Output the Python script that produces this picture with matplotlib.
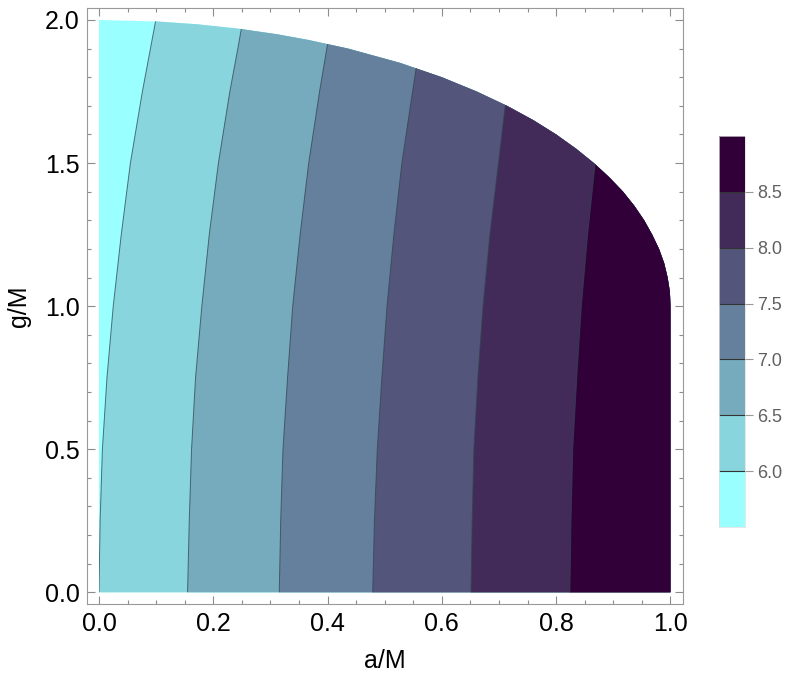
import matplotlib
matplotlib.use("Agg")
import matplotlib.pyplot as plt
from matplotlib.patches import Polygon
from matplotlib.colors import ListedColormap, BoundaryNorm
from matplotlib.cm import ScalarMappable
from matplotlib.ticker import MultipleLocator, FormatStrFormatter

plt.rcParams['font.family'] = ['Liberation Sans', 'DejaVu Sans']

levels = [6.0, 6.5, 7.0, 7.5, 8.0, 8.5]
bounds = [5.5, 6.0, 6.5, 7.0, 7.5, 8.0, 8.5, 9.0]
band_colors = ['#99ffff', '#88d5de', '#76aabd', '#65809c', '#54557a', '#422b59', '#310038']

# contour lines: g/M samples and the a/M where each level sits
g_60 = [0.0, 0.25, 0.5, 0.75, 1.0, 1.25, 1.5, 1.75, 1.995]
a_60 = [0.0, 0.002, 0.006, 0.014, 0.025, 0.039, 0.055, 0.076, 0.099]
g_65 = [0.0, 0.25, 0.5, 0.75, 1.0, 1.25, 1.5, 1.75, 1.9, 1.968]
a_65 = [0.155, 0.158, 0.162, 0.169, 0.180, 0.193, 0.209, 0.229, 0.243, 0.249]
g_70 = [0.0, 0.25, 0.5, 0.75, 1.0, 1.25, 1.5, 1.75, 1.916]
a_70 = [0.3155, 0.318, 0.322, 0.330, 0.339, 0.352, 0.367, 0.386, 0.400]
g_75 = [0.0, 0.25, 0.5, 0.75, 1.0, 1.25, 1.5, 1.7, 1.832]
a_75 = [0.479, 0.482, 0.487, 0.495, 0.504, 0.516, 0.530, 0.545, 0.555]
g_80 = [0.0, 0.25, 0.5, 0.75, 1.0, 1.25, 1.5, 1.703]
a_80 = [0.651, 0.653, 0.656, 0.663, 0.672, 0.684, 0.699, 0.711]
g_85 = [0.0, 0.25, 0.5, 0.75, 1.0, 1.25, 1.495]
a_85 = [0.824, 0.826, 0.829, 0.836, 0.844, 0.855, 0.868]

# outer edge of the filled region
edge_g = [0.0, 1.0, 1.05, 1.1, 1.15, 1.2, 1.25, 1.3, 1.35, 1.4, 1.45, 1.5, 1.55, 1.6,
          1.65, 1.7, 1.75, 1.8, 1.85, 1.9, 1.93, 1.95, 1.97, 1.985, 1.995, 2.0]
edge_a = [1.0, 1.0, 0.999, 0.995, 0.989, 0.980, 0.968, 0.954, 0.937, 0.917, 0.893, 0.866,
          0.835, 0.800, 0.760, 0.714, 0.661, 0.600, 0.527, 0.436, 0.367, 0.312, 0.243,
          0.172, 0.100, 0.0]

lines = [(a_60, g_60), (a_65, g_65), (a_70, g_70), (a_75, g_75), (a_80, g_80), (a_85, g_85)]

fig = plt.figure(figsize=(7.93, 6.87), dpi=100)
ax = fig.add_axes([0.1093, 0.1208, 0.7524, 0.8672])

domain = Polygon([(0.0, 0.0)] + list(zip(edge_a, edge_g)), closed=True,
                 facecolor=band_colors[0], edgecolor='none', transform=ax.transData)
ax.add_patch(domain)

# every level paints the part to its right, drawn in order, cut to the region
for k, (a, g) in enumerate(lines):
    pts = [(a[0], -0.1)] + list(zip(a, g)) + [(a[-1], 2.3), (1.3, 2.3), (1.3, -0.1)]
    band = Polygon(pts, closed=True, facecolor=band_colors[k + 1], edgecolor='none')
    ax.add_patch(band)
    band.set_clip_path(domain)

for a, g in lines:
    ln, = ax.plot(a, g, color='#2f4650', lw=0.7, alpha=0.75)
    ln.set_clip_path(domain)

ax.set_xlim(-0.0215, 1.0225)
ax.set_ylim(-0.041, 2.041)
ax.xaxis.set_major_locator(MultipleLocator(0.2))
ax.xaxis.set_minor_locator(MultipleLocator(0.05))
ax.yaxis.set_major_locator(MultipleLocator(0.5))
ax.yaxis.set_minor_locator(MultipleLocator(0.1))
ax.xaxis.set_major_formatter(FormatStrFormatter('%.1f'))
ax.yaxis.set_major_formatter(FormatStrFormatter('%.1f'))
ax.tick_params(which='both', direction='in', top=True, right=True, color='#8c8c8c',
               width=0.8, labelsize=18, labelcolor='black')
ax.tick_params(which='major', length=5.5)
ax.tick_params(which='minor', length=3)
ax.tick_params(axis='x', pad=6)
ax.tick_params(axis='y', pad=5)
for sp in ax.spines.values():
    sp.set_color('#999999')
    sp.set_linewidth(0.8)

ax.set_xlabel('a/M', fontsize=18, labelpad=9)
ax.set_ylabel('g/M', fontsize=18, labelpad=10)

cax = fig.add_axes([0.9067, 0.2329, 0.0328, 0.569])
sm = ScalarMappable(norm=BoundaryNorm(bounds, len(band_colors)), cmap=ListedColormap(band_colors))
cb = fig.colorbar(sm, cax=cax, ticks=levels, drawedges=True, format='%.1f')
cb.outline.set_edgecolor('#dddddd')
cb.outline.set_linewidth(0.5)
cb.dividers.set_color('#333333')
cb.dividers.set_linewidth(0.8)
cax.minorticks_off()
cax.tick_params(length=5.5, width=0.8, color='#999999', labelcolor='#606060', labelsize=13, pad=3)

fig.savefig('out.png', dpi=100)
